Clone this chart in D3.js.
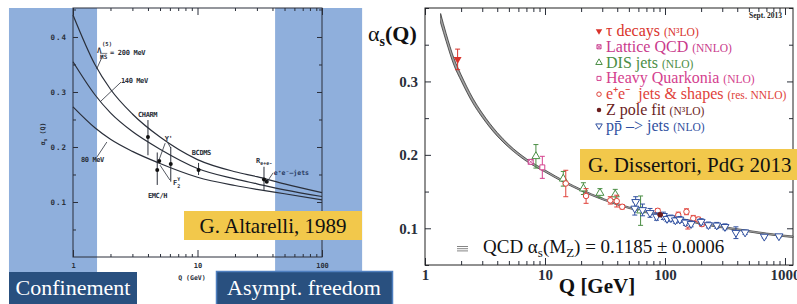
<!DOCTYPE html>
<html>
<head>
<meta charset="UTF-8">
<title>alpha_s running</title>
<script src="https://cdn.jsdelivr.net/npm/d3@7"></script>
<style>
  body { margin: 0; background: #fff; }
  svg { display: block; }
</style>
</head>
<body>
<script>
// ---------- left panel data (Altarelli 1989) ----------
var oldQ      = [1, 1.5, 2, 3, 5, 10, 20, 30, 50, 100];
var lambda200 = [0.44, 0.35, 0.305, 0.26, 0.218, 0.177, 0.155, 0.146, 0.133, 0.117];
var lambda140 = [0.355, 0.295, 0.262, 0.228, 0.196, 0.161, 0.142, 0.133, 0.122, 0.110];
var lambda80  = [0.273, 0.235, 0.214, 0.192, 0.170, 0.145, 0.130, 0.123, 0.115, 0.104];

var oldPointQ  = [4.0, 4.75, 4.93, 6.1, 10.2, 34.2, 36];
var oldPointA  = [0.218, 0.158, 0.1745, 0.169, 0.158, 0.141, 0.137];
var oldPointLo = [0.185, 0.131, 0.1745, 0.137, 0.149, 0.122, 0.137];
var oldPointHi = [0.249, 0.19, 0.1745, 0.2, 0.171, 0.164, 0.137];

var leftYTicks  = [0.05, 0.1, 0.15, 0.2, 0.25, 0.3, 0.35, 0.4, 0.45];
var leftYLabels = ['', '0.1', '', '0.2', '', '0.3', '', '0.4', ''];
var leftXLabels = {1: '1', 10: '10', 100: '100'};

var confinementQ = [0.306, 1.56];
var freedomQ     = [42, 210];

// ---------- right panel data (PDG 2013) ----------
var qcdQ   = [1.35, 1.5, 1.75, 2, 2.5, 3, 4, 5, 7, 10, 15, 20, 30, 50, 70, 100, 150, 200, 300, 500, 700, 1000, 1166];
var qcdA   = [0.386, 0.360, 0.326, 0.305, 0.274, 0.254, 0.228, 0.212, 0.193, 0.178, 0.162, 0.152, 0.140, 0.128, 0.122, 0.117, 0.111, 0.1065, 0.1015, 0.096, 0.0925, 0.0895, 0.0885];
var qcdErr = [0.0065, 0.0055, 0.0048, 0.0042, 0.0035, 0.003, 0.0025, 0.002, 0.0017, 0.0014, 0.0012, 0.0011, 0.001, 0.001, 0.001, 0.001, 0.001, 0.001, 0.001, 0.001, 0.001, 0.001, 0.001];

var tauQ = [1.87], tauA = [0.330], tauE = [0.014];
var latQ = [7.6],  latA = [0.1905], latE = [0.002];
var disQ = [8.4, 14.2, 20.9, 28.7, 38.5, 62.6];
var disA = [0.198, 0.1674, 0.154, 0.148, 0.146, 0.124];
var disE = [0.016, 0.010, 0.008, 0.006, 0.007, 0.020];
var hqQ = [9.5], hqA = [0.183], hqE = [0.015];
var eeQ = [14.9, 22, 35, 39.6, 44, 87, 129, 151, 155, 172, 190, 203];
var eeA = [0.161, 0.144, 0.138, 0.137, 0.1293, 0.1238, 0.118, 0.1225, 0.105, 0.1135, 0.112, 0.1057];
var eeE = [0.018, 0.010, 0.005, 0.008, 0.003, 0.003, 0.004, 0.004, 0.006, 0.004, 0.003, 0.003];
var zQ = [91.2], zA = [0.1185], zE = [0.001];
var ppQ = [56, 57, 65, 75, 85, 97, 104, 112, 122, 133, 148, 165, 200, 230, 270, 316, 390, 465, 672, 890];
var ppA = [0.127, 0.136, 0.125, 0.121, 0.116, 0.117, 0.113, 0.114, 0.111, 0.112, 0.108, 0.106, 0.109, 0.1045, 0.104, 0.102, 0.094, 0.0945, 0.0888, 0.0893];
var ppE = [0.009, 0.007, 0.008, 0.006, 0.005, 0.005, 0.004, 0.004, 0.004, 0.004, 0.004, 0.004, 0.004, 0.004, 0.004, 0.004, 0.008, 0.003, 0.002, 0.002];

var rightYTicks  = [0.05, 0.1, 0.15, 0.2, 0.25, 0.3, 0.35, 0.4];
var rightYLabels = ['', '0.1', '', '0.2', '', '0.3', '', ''];
var rightXLabels = {1: '1', 10: '10', 100: '100', 1000: '1000'};

var legendNames = ['τ decays', 'Lattice QCD', 'DIS jets', 'Heavy Quarkonia', 'e⁺e⁻  jets & shapes', 'Z pole fit', 'pp\u0304 –> jets'];
var legendNotes = ['(N³LO)', '(NNLO)', '(NLO)', '(NLO)', '(res. NNLO)', '(N³LO)', '(NLO)'];

// ---------- drawing ----------
var W = 797, H = 304;
var ink = '#2a2f3a';
var serif = '"Liberation Serif", "Times New Roman", serif';
var mono = '"DejaVu Sans Mono", monospace';

var svg = d3.select('body').append('svg')
  .attr('width', W).attr('height', H)
  .attr('font-family', serif);

svg.append('rect').attr('width', W).attr('height', H).attr('fill', '#fff');

// ===== left panel =====
var xL = d3.scaleLog().domain([1, 100]).range([73, 322]);
var yL = d3.scaleLinear().domain([0, 0.4527]).range([257, 8]);

var gl = svg.append('g');

gl.selectAll('rect.band')
  .data([confinementQ, freedomQ])
  .enter().append('rect')
  .attr('x', function(d) { return xL(d[0]); })
  .attr('width', function(d) { return xL(d[1]) - xL(d[0]); })
  .attr('y', 8).attr('height', 264)
  .attr('fill', '#8fafdc');

function tidy(g, fontSize, family, weight) {
  g.select('.domain').remove();
  g.attr('font-family', null);
  g.selectAll('line').attr('stroke', ink);
  g.selectAll('text')
    .attr('fill', ink)
    .attr('font-family', family)
    .style('font-size', fontSize + 'px')
    .style('font-weight', weight);
}

function isMajorLog(d) {
  var l = Math.log10(d);
  return Math.abs(l - Math.round(l)) < 1e-6;
}

function monoText(g, x, y, size) {
  return g.append('text').attr('x', x).attr('y', y)
    .attr('font-family', mono).style('font-size', size + 'px').style('font-weight', 'bold')
    .attr('fill', ink);
}

gl.append('g').attr('transform', 'translate(73,0)')
  .call(d3.axisLeft(yL).tickValues(leftYTicks).tickSize(-5).tickPadding(6)
    .tickFormat(function(d, i) { return leftYLabels[i]; }))
  .call(tidy, 7.5, mono, 'bold')
  .call(function(g) {
    g.selectAll('.tick line').attr('x2', function(d, i) { return leftYLabels[i] ? 5 : 3; });
    g.selectAll('text').style('letter-spacing', '1px');
  });

gl.append('g').attr('transform', 'translate(322,0)')
  .call(d3.axisRight(yL).tickValues(leftYTicks).tickSize(-5).tickFormat(''))
  .call(tidy, 7, mono, 'bold')
  .call(function(g) {
    g.selectAll('.tick line').attr('x2', function(d, i) { return leftYLabels[i] ? -5 : -3; });
  });

gl.append('g').attr('transform', 'translate(0,257)')
  .call(d3.axisBottom(xL).tickValues(xL.ticks()).tickSize(-3).tickPadding(6)
    .tickFormat(function(d) { return leftXLabels[d] || ''; }))
  .call(tidy, 7, mono, 'bold')
  .call(function(g) {
    g.selectAll('.tick line').attr('y2', function(d) { return isMajorLog(d) ? -7 : -3; });
  });

gl.append('g').attr('transform', 'translate(0,8)')
  .call(d3.axisTop(xL).tickValues(xL.ticks()).tickSize(-3).tickFormat(''))
  .call(tidy, 7, mono, 'bold')
  .call(function(g) {
    g.selectAll('.tick line').attr('y2', function(d) { return isMajorLog(d) ? 7 : 3; });
  });

gl.append('rect')
  .attr('x', 73).attr('y', 8).attr('width', 322 - 73).attr('height', 257 - 8)
  .attr('fill', 'none').attr('stroke', ink).attr('stroke-width', 1);

var oldLine = d3.line()
  .x(function(d) { return xL(d[0]); })
  .y(function(d) { return yL(d[1]); })
  .curve(d3.curveMonotoneX);

gl.selectAll('path.curve')
  .data([lambda200, lambda140, lambda80])
  .enter().append('path')
  .attr('d', function(vals) { return oldLine(oldQ.map(function(q, i) { return [q, vals[i]]; })); })
  .attr('fill', 'none').attr('stroke', ink).attr('stroke-width', 1.2);

// error bars + points
gl.selectAll('line.oerr')
  .data(oldPointQ)
  .enter().append('line')
  .attr('x1', function(d) { return xL(d); }).attr('x2', function(d) { return xL(d); })
  .attr('y1', function(d, i) { return yL(oldPointLo[i]); })
  .attr('y2', function(d, i) { return yL(oldPointHi[i]); })
  .attr('stroke', ink).attr('stroke-width', 1);

gl.selectAll('circle.opt')
  .data(oldPointQ)
  .enter().append('circle')
  .attr('cx', function(d) { return xL(d); })
  .attr('cy', function(d, i) { return yL(oldPointA[i]); })
  .attr('r', 2).attr('fill', '#111');

// annotations (positioned in data coords)
var oldNotes = [
  {q: 2.43, a: 0.316, t: '140 MeV'},
  {q: 1.16, a: 0.173, t: '80 MeV'},
  {q: 3.33, a: 0.2545, t: 'CHARM'},
  {q: 5.45, a: 0.211, t: "Υ'"},
  {q: 9.0, a: 0.1855, t: 'BCDMS'},
  {q: 4.0, a: 0.107, t: 'EMC/H'}
];
gl.selectAll('text.onote')
  .data(oldNotes)
  .enter().append('text')
  .attr('x', function(d) { return xL(d.q); })
  .attr('y', function(d) { return yL(d.a); })
  .text(function(d) { return d.t; })
  .attr('font-family', mono).style('font-size', '7px').style('font-weight', 'bold')
  .style('letter-spacing', '-0.4px')
  .attr('fill', ink);

// Lambda label: Λ with (5) above, overlined MS below, "= 200 MeV" beside
var lx = xL(1.56), ly = yL(0.371);
monoText(gl, lx, ly, 7.5).text('Λ');
monoText(gl, lx + 5, ly - 7, 5.5).text('(5)');
monoText(gl, lx + 3, ly + 6, 6).style('text-decoration', 'overline').text('MS');
monoText(gl, lx + 13, ly + 2, 7).style('letter-spacing', '-0.3px').text('= 200 MeV');

// F2 gamma
var f2 = monoText(gl, xL(6.35), yL(0.131), 7);
f2.append('tspan').text('F');
f2.append('tspan').attr('dy', 3).style('font-size', '5px').text('2');
f2.append('tspan').attr('dx', -3).attr('dy', -8).style('font-size', '5px').text('γ');

// R e+e-
var rr = monoText(gl, xL(29.5), yL(0.171), 7);
rr.append('tspan').text('R');
rr.append('tspan').attr('dy', 2).style('font-size', '5px').text('e+e-');

monoText(gl, xL(41), yL(0.149), 6.5).attr('fill', '#283a62').text('e⁺e⁻—jets');

var leaders = [
  [[1.74, 0.367], [1.55, 0.342]],
  [[2.43, 0.318], [1.65, 0.282]],
  [[1.56, 0.182], [1.87, 0.209]],
  [[5.5, 0.207], [4.9, 0.176]],
  [[5.8, 0.207], [6.1, 0.198]],
  [[5.0, 0.167], [6.0, 0.14]],
  [[40.5, 0.153], [36, 0.136]]
];
gl.selectAll('line.lead')
  .data(leaders)
  .enter().append('line')
  .attr('x1', function(d) { return xL(d[0][0]); }).attr('y1', function(d) { return yL(d[0][1]); })
  .attr('x2', function(d) { return xL(d[1][0]); }).attr('y2', function(d) { return yL(d[1][1]); })
  .attr('stroke', ink).attr('stroke-width', 0.8);

monoText(gl, 192, 280, 6.5).attr('text-anchor', 'middle').text('Q (GeV)');

var ylab = gl.append('text').attr('transform', 'translate(45,134) rotate(-90)')
  .attr('text-anchor', 'middle')
  .attr('font-family', mono).style('font-size', '6.5px').style('font-weight', 'bold').attr('fill', ink);
ylab.append('tspan').text('α');
ylab.append('tspan').attr('dy', 2).style('font-size', '5px').text('s');
ylab.append('tspan').attr('dy', -2).text(' (Q)');

// Altarelli box
gl.append('rect').attr('x', 184).attr('y', 211).attr('width', 178).attr('height', 29).attr('fill', '#f2c84b');
gl.append('text').attr('x', 273).attr('y', 233).attr('text-anchor', 'middle')
  .style('font-size', '21px').attr('fill', '#111').text('G. Altarelli, 1989');

// bottom labels
gl.append('rect').attr('x', 9).attr('y', 272).attr('width', 128).attr('height', 32).attr('fill', '#29507f');
gl.append('text').attr('x', 73).attr('y', 295).attr('text-anchor', 'middle')
  .style('font-size', '22px').attr('fill', '#fff').text('Confinement');
gl.append('rect').attr('x', 216.5).attr('y', 271.5).attr('width', 176).attr('height', 34)
  .attr('fill', '#29507f').attr('stroke', '#4f7fbf').attr('stroke-width', 1.5);
gl.append('text').attr('x', 304).attr('y', 295).attr('text-anchor', 'middle')
  .style('font-size', '22px').attr('fill', '#fff').text('Asympt. freedom');

// ===== right panel =====
var xR = d3.scaleLog().domain([1, 1166]).range([425, 793]);
var yR = d3.scaleLinear().domain([0.05, 0.4]).range([265, 8]);
var gr = svg.append('g');

gr.append('g').attr('transform', 'translate(425,0)')
  .call(d3.axisLeft(yR).tickValues(rightYTicks).tickSize(-5).tickPadding(7)
    .tickFormat(function(d, i) { return rightYLabels[i]; }))
  .call(tidy, 15, serif, 'bold')
  .call(function(g) {
    g.selectAll('.tick line').attr('x2', function(d, i) { return rightYLabels[i] ? 6 : 4; });
  });

gr.append('g').attr('transform', 'translate(793,0)')
  .call(d3.axisRight(yR).tickValues(rightYTicks).tickSize(-5).tickFormat(''))
  .call(tidy, 15, serif, 'bold')
  .call(function(g) {
    g.selectAll('.tick line').attr('x2', function(d, i) { return rightYLabels[i] ? -6 : -4; });
  });

gr.append('g').attr('transform', 'translate(0,265)')
  .call(d3.axisBottom(xR).tickValues(xR.ticks()).tickSize(-4).tickPadding(4)
    .tickFormat(function(d) { return rightXLabels[d] || ''; }))
  .call(tidy, 15, serif, 'bold')
  .call(function(g) {
    g.selectAll('.tick line').attr('y2', function(d) { return isMajorLog(d) ? -7 : -4; });
  });

gr.append('g').attr('transform', 'translate(0,8)')
  .call(d3.axisTop(xR).tickValues(xR.ticks()).tickSize(-4).tickFormat(''))
  .call(tidy, 15, serif, 'bold')
  .call(function(g) {
    g.selectAll('.tick line').attr('y2', function(d) { return isMajorLog(d) ? 7 : 4; });
  });

gr.append('rect')
  .attr('x', 425).attr('y', 8).attr('width', 793 - 425).attr('height', 265 - 8)
  .attr('fill', 'none').attr('stroke', '#222').attr('stroke-width', 1);

// QCD band
var bandData = qcdQ.map(function(q, i) { return {q: q, a: qcdA[i], e: qcdErr[i]}; });
gr.append('path')
  .datum(bandData)
  .attr('d', d3.area()
    .x(function(d) { return xR(d.q); })
    .y0(function(d) { return yR(d.a - d.e); })
    .y1(function(d) { return yR(d.a + d.e); })
    .curve(d3.curveMonotoneX))
  .attr('fill', '#8e8e8e').attr('stroke', '#2b2b2b').attr('stroke-width', 0.7);
gr.append('path')
  .datum(bandData)
  .attr('d', d3.line()
    .x(function(d) { return xR(d.q); })
    .y(function(d) { return yR(d.a); })
    .curve(d3.curveMonotoneX))
  .attr('fill', 'none').attr('stroke', '#c4c4c4').attr('stroke-width', 0.6).attr('stroke-opacity', 0.8);

var series = [
  {q: tauQ, a: tauA, e: tauE, color: '#d9332b', shape: 'tau'},
  {q: disQ, a: disA, e: disE, color: '#4b8e45', shape: 'tri'},
  {q: eeQ, a: eeA, e: eeE, color: '#e0423a', shape: 'circle'},
  {q: ppQ, a: ppA, e: ppE, color: '#3050a0', shape: 'itri'},
  {q: latQ, a: latA, e: latE, color: '#c93a8c', shape: 'xsq'},
  {q: hqQ, a: hqA, e: hqE, color: '#d4418e', shape: 'sq'},
  {q: zQ, a: zA, e: zE, color: '#6b1d1d', shape: 'dot'}
];

function drawMarker(g, shape, color, s) {
  var tri = d3.symbol().type(d3.symbolTriangle).size(s * s * 0.9)();
  var sq = d3.symbol().type(d3.symbolSquare).size(s * s * 0.8)();
  if (shape === 'tau') {
    g.append('path').attr('d', tri).attr('transform', 'rotate(180)').attr('fill', color);
  } else if (shape === 'tri') {
    g.append('path').attr('d', tri).attr('fill', '#fff').attr('stroke', color).attr('stroke-width', 1);
  } else if (shape === 'itri') {
    g.append('path').attr('d', tri).attr('transform', 'rotate(180)').attr('fill', '#fff').attr('stroke', color).attr('stroke-width', 1);
  } else if (shape === 'circle') {
    g.append('circle').attr('r', s * 0.5).attr('fill', '#fff').attr('stroke', color).attr('stroke-width', 1);
  } else if (shape === 'sq') {
    g.append('path').attr('d', sq).attr('fill', '#fff').attr('stroke', color).attr('stroke-width', 1);
  } else if (shape === 'xsq') {
    var h = s * 0.45;
    g.append('path').attr('d', sq).attr('fill', '#fff').attr('stroke', color).attr('stroke-width', 1);
    g.append('path').attr('d', 'M' + (-h) + ',' + (-h) + 'L' + h + ',' + h + 'M' + (-h) + ',' + h + 'L' + h + ',' + (-h))
      .attr('stroke', color).attr('stroke-width', 0.8);
  } else if (shape === 'dot') {
    g.append('circle').attr('r', s * 0.5).attr('fill', color);
  }
}

series.forEach(function(sr) {
  var pts = sr.q.map(function(q, i) { return {q: q, a: sr.a[i], e: sr.e[i]}; });
  var grp = gr.append('g');
  var eb = grp.selectAll('g.eb').data(pts).enter().append('g')
    .attr('stroke', sr.color).attr('stroke-width', 1);
  eb.append('line')
    .attr('x1', function(d) { return xR(d.q); }).attr('x2', function(d) { return xR(d.q); })
    .attr('y1', function(d) { return yR(d.a - d.e); }).attr('y2', function(d) { return yR(d.a + d.e); });
  eb.append('line')
    .attr('x1', function(d) { return xR(d.q) - 2.5; }).attr('x2', function(d) { return xR(d.q) + 2.5; })
    .attr('y1', function(d) { return yR(d.a - d.e); }).attr('y2', function(d) { return yR(d.a - d.e); });
  eb.append('line')
    .attr('x1', function(d) { return xR(d.q) - 2.5; }).attr('x2', function(d) { return xR(d.q) + 2.5; })
    .attr('y1', function(d) { return yR(d.a + d.e); }).attr('y2', function(d) { return yR(d.a + d.e); });
  grp.selectAll('g.mk').data(pts).enter().append('g')
    .attr('transform', function(d) { return 'translate(' + xR(d.q) + ',' + yR(d.a) + ')'; })
    .each(function() { drawMarker(d3.select(this), sr.shape, sr.color, 5.5); });
});

// legend
var legendStyle = [
  {color: '#d9332b', shape: 'tau'},
  {color: '#c93a8c', shape: 'xsq'},
  {color: '#4b8e45', shape: 'tri'},
  {color: '#d4418e', shape: 'sq'},
  {color: '#e0423a', shape: 'circle'},
  {color: '#6b1d1d', shape: 'dot'},
  {color: '#3050a0', shape: 'itri'}
];
legendNames.forEach(function(name, i) {
  var cy = 31 + i * 15.8;
  var st = legendStyle[i];
  drawMarker(gr.append('g').attr('transform', 'translate(599,' + cy + ')'), st.shape, st.color, 4.5);
  var t = gr.append('text').attr('x', 606).attr('y', cy + 5).attr('fill', st.color)
    .style('font-size', '16px').style('white-space', 'pre');
  t.append('tspan').text(name + ' ');
  t.append('tspan').style('font-size', '11.5px').text(legendNotes[i]);
});

gr.append('text').attr('x', 782).attr('y', 18).attr('text-anchor', 'end')
  .style('font-size', '7.5px').style('font-weight', 'bold').attr('fill', '#222').text('Sept. 2013');

// QCD legend
[0, 1, 2].forEach(function(k) {
  gr.append('line').attr('x1', 457).attr('x2', 468).attr('y1', 246.5 + k * 2.2).attr('y2', 246.5 + k * 2.2)
    .attr('stroke', '#666').attr('stroke-width', 0.8);
});
var ql = gr.append('text').attr('x', 483).attr('y', 253).style('font-size', '19px').attr('fill', '#111');
ql.append('tspan').text('QCD α');
ql.append('tspan').attr('dy', 4).style('font-size', '13px').text('s');
ql.append('tspan').attr('dy', -4).text('(M');
ql.append('tspan').attr('dy', 4).style('font-size', '13px').text('Z');
ql.append('tspan').attr('dy', -4).text(') = 0.1185 ± 0.0006');

// axis titles
gr.append('text').attr('x', 597).attr('y', 293).attr('text-anchor', 'middle')
  .style('font-size', '21px').style('font-weight', 'bold').attr('fill', '#111').text('Q [GeV]');

var al = svg.append('text').attr('x', 368).attr('y', 41)
  .style('font-size', '22px').style('font-weight', 'bold').attr('fill', '#111');
al.append('tspan').style('font-weight', 'normal').text('α');
al.append('tspan').attr('dy', 5).style('font-size', '14px').text('s');
al.append('tspan').attr('dy', -5).text('(Q)');

// Dissertori box
gr.append('rect').attr('x', 580).attr('y', 149).attr('width', 217).attr('height', 31).attr('fill', '#f2c84b');
gr.append('text').attr('x', 588).attr('y', 172)
  .style('font-size', '21px').attr('fill', '#111').text('G. Dissertori, PdG 2013');
</script>
</body>
</html>
